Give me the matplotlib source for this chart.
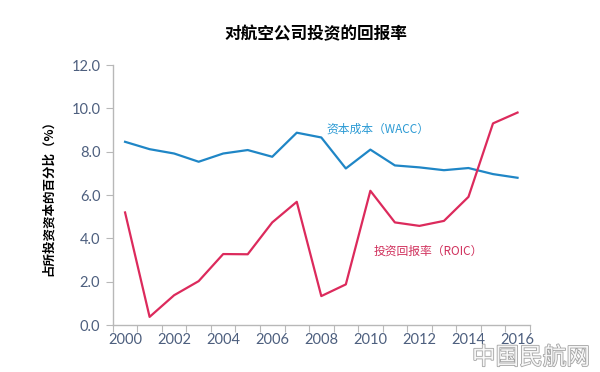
import matplotlib.pyplot as plt
import matplotlib.patheffects as pe
import numpy as np

plt.rcParams['font.family'] = ['Noto Sans CJK SC', 'DejaVu Sans']

years = np.arange(2000, 2017)
wacc = [8.46, 8.12, 7.92, 7.54, 7.92, 8.08, 7.77, 8.88, 8.66, 7.23, 8.10,
        7.37, 7.28, 7.15, 7.25, 6.97, 6.80]
roic = [5.20, 0.38, 1.38, 2.03, 3.28, 3.27, 4.74, 5.69, 1.34, 1.88, 6.20,
        4.74, 4.58, 4.81, 5.92, 9.31, 9.81]
year_labels = [str(y) for y in range(2000, 2017, 2)]
y_ticks = [0, 2, 4, 6, 8, 10, 12]

blue = '#1f86c6'
red = '#dc2a5c'
tick_col = '#4d5f7e'
axis_col = '#b8b8b8'

fig = plt.figure(figsize=(6, 3.72), dpi=100)
ax = fig.add_axes([0.188, 0.126, 0.695, 0.699])

ax.plot(years, wacc, color=blue, lw=1.6)
ax.plot(years, roic, color=red, lw=1.6)

ax.set_xlim(1999.5, 2016.5)
ax.set_ylim(0, 12)

# ticks between categories, labels at every other year
ax.set_xticks(np.arange(1999.5, 2017, 1))
ax.set_xticklabels([])
ax.set_xticks(range(2000, 2017, 2), minor=True)
ax.set_xticklabels(year_labels, minor=True)
ax.tick_params(axis='x', which='major', length=5, color=axis_col, direction='out')
ax.tick_params(axis='x', which='minor', length=0, pad=6)
ax.set_yticks(y_ticks)
ax.set_yticklabels(['%.1f' % v for v in y_ticks])
ax.tick_params(axis='y', length=5, color=axis_col, pad=4)
for lab in ax.get_xticklabels(minor=True) + ax.get_yticklabels():
    lab.set_fontfamily(['Lato', 'DejaVu Sans'])
    lab.set_fontsize(10.5)
    lab.set_color(tick_col)

for s in ['top', 'right']:
    ax.spines[s].set_visible(False)
for s in ['left', 'bottom']:
    ax.spines[s].set_color(axis_col)
    ax.spines[s].set_linewidth(1.0)

ax.set_ylabel('占所投资资本的百分比（%）', fontsize=9, fontweight='bold', labelpad=12)

ax.text(2010.3, 9.04, '资本成本（WACC）', color='#2b9ad4', fontsize=8.5,
        ha='center', va='center')
ax.text(2012.36, 3.41, '投资回报率（ROIC）', color='#d0305c', fontsize=8.5,
        ha='center', va='center')

fig.text(0.527, 0.908, '对航空公司投资的回报率', fontsize=12, fontweight='bold',
         ha='center', va='center')

# watermark
wm = fig.text(0.885, 0.038, '中国民航网', fontsize=17, color='white',
              ha='center', va='center', alpha=0.9)
wm.set_path_effects([pe.withStroke(linewidth=1.2, foreground='#9a9a9a')])

fig.savefig('out.png', dpi=100)
